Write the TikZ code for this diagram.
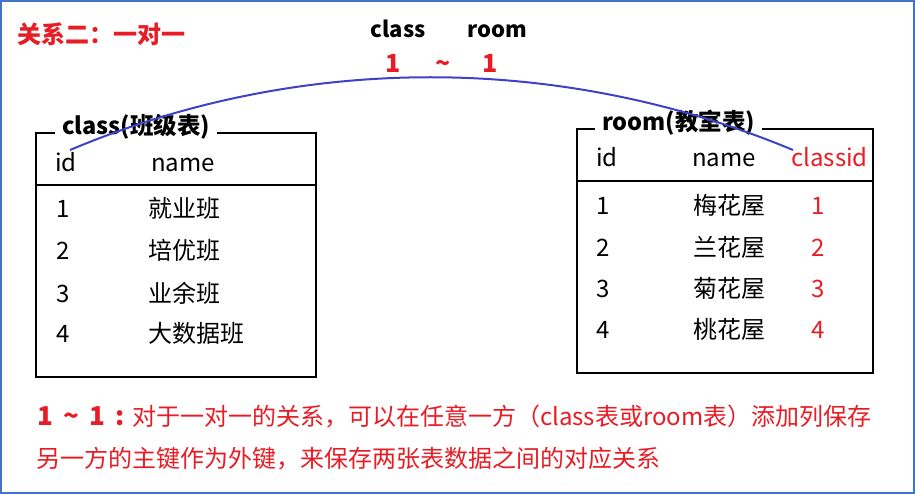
\documentclass[tikz,border=0pt]{standalone}
\usepackage{fontspec}
\setmainfont{Noto Sans CJK SC}
\definecolor{myred}{RGB}{232,28,36}
\definecolor{myblue}{RGB}{64,64,200}
\definecolor{frameblue}{RGB}{68,114,196}
\begin{document}
\begin{tikzpicture}[x=1pt,y=-1pt,
  cell/.style={anchor=base west, inner sep=0pt, font=\fontsize{24}{28}\selectfont},
  redcell/.style={anchor=base, inner sep=0pt, text=myred, font=\fontsize{24}{28}\selectfont},
  tabtitle/.style={anchor=base west, inner xsep=7pt, inner ysep=1pt, fill=white, font=\fontsize{23.5}{28}\selectfont\bfseries},
  tabframe/.style={line width=2.6pt, black},
  headlbl/.style={anchor=base, inner sep=0pt, font=\fontsize{22}{26}\selectfont\bfseries},
  cardlbl/.style={anchor=base, inner sep=0pt, text=myred, font=\fontsize{25}{28}\selectfont\bfseries},
  note/.style={anchor=base west, inner sep=0pt, text=myred, font=\fontsize{24}{30}\selectfont},
  link/.style={myblue, line width=2pt}]
\useasboundingbox (0,0) rectangle (915,494);
\draw[frameblue, line width=2pt] (1,1) rectangle (914,493);

% title
\node[anchor=west, inner sep=0pt, text=myred, font=\fontsize{24}{28}\selectfont\bfseries] (title) at (17,34) {关系二：一对一};

% cardinality header
\node[headlbl] (hclass) at (398,38) {class};
\node[headlbl] (hroom) at (497,38) {room};
\node[cardlbl] (one1) at (393,73) {1};
\node[cardlbl] (tilde) at (443,73) {\textasciitilde};
\node[cardlbl] (one2) at (490,73) {1};

% class table
\draw[tabframe] (36,133) rectangle (316,377);
\draw[tabframe] (36,185) -- (316,185);
\node[tabtitle] (ctitle) at (55,135) {class(班级表)};
\node[cell] (cid) at (55,172) {id};
\node[cell] (cname) at (151,172) {name};
\node[cell] (c1) at (56,218) {1};
\node[cell] (c1n) at (148,218) {就业班};
\node[cell] (c2) at (56,260) {2};
\node[cell] (c2n) at (148,260) {培优班};
\node[cell] (c3) at (56,302) {3};
\node[cell] (c3n) at (148,302) {业余班};
\node[cell] (c4) at (56,342) {4};
\node[cell] (c4n) at (148,342) {大数据班};

% room table
\draw[tabframe] (577,129) rectangle (873,373);
\draw[tabframe] (577,181) -- (873,181);
\node[tabtitle] (rtitle) at (595,131) {room(教室表)};
\node[cell] (rid) at (596,167) {id};
\node[cell] (rname) at (692,167) {name};
\node[cell, text=myred] (rcid) at (791,167) {classid};
\node[cell] (r1) at (596,215) {1};
\node[cell] (r1n) at (693,215) {梅花屋};
\node[redcell] (r1c) at (818,215) {1};
\node[cell] (r2) at (596,257) {2};
\node[cell] (r2n) at (693,257) {兰花屋};
\node[redcell] (r2c) at (818,257) {2};
\node[cell] (r3) at (596,297) {3};
\node[cell] (r3n) at (693,297) {菊花屋};
\node[redcell] (r3c) at (818,297) {3};
\node[cell] (r4) at (596,338) {4};
\node[cell] (r4n) at (693,338) {桃花屋};
\node[redcell] (r4c) at (818,338) {4};

% link
\coordinate (la) at ([xshift=15pt,yshift=22pt]cid.base west);
\coordinate (lb) at ([xshift=2pt,yshift=17pt]rcid.base west);
\draw[link] (la) .. controls (300,53) and (560,53) .. (lb);

% note
\node[note] (note1) at (37,425) {{\fontsize{26}{30}\selectfont\bfseries 1\hspace{0.4em}\textasciitilde\hspace{0.4em}1\hspace{0.4em}:}\hspace{7pt}对于一对一的关系，可以在任意一方（class表或room表）添加列保存};
\node[note] (note2) at (36,467) {另一方的主键作为外键，来保存两张表数据之间的对应关系};
\end{tikzpicture}
\end{document}
